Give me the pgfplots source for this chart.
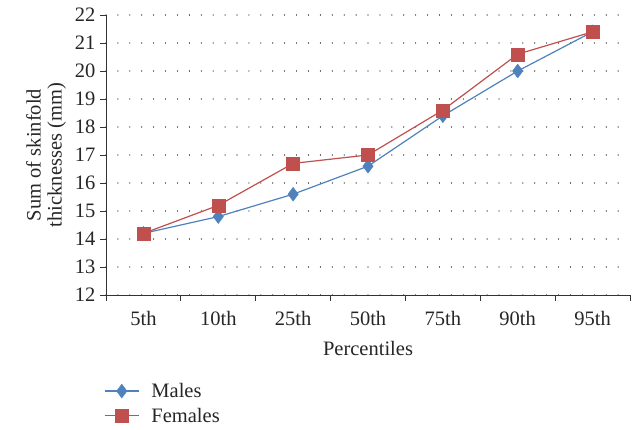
\documentclass[border=0pt]{standalone}
\usepackage{pgfplots}
\pgfplotsset{compat=1.18}
\usepackage{fontspec}
\setmainfont{Liberation Serif}
\definecolor{mblue}{HTML}{4F81BD}
\definecolor{fred}{HTML}{C0504D}
\begin{document}
\begin{tikzpicture}
\path[use as bounding box] (-106pt,-135pt) rectangle (532pt,295pt);
\begin{axis}[
    scale only axis,
    width=524pt, height=280pt,
    xmin=-0.5, xmax=6.5,
    ymin=12, ymax=22,
    ytick={12,13,...,22},
    xtick={0,...,6},
    xticklabels={5th,10th,25th,50th,75th,90th,95th},
    minor xtick={-0.5,0.5,...,6.5},
    major x tick style={draw=none},
    axis x line*=bottom, axis y line*=left,
    axis line style={black!80, line width=0.9pt, -},
    tick align=outside,
    major tick length=6pt, minor tick length=6pt,
    tick style={black!80, line width=0.9pt},
    ymajorgrids,
    grid style={black!70, line width=1.1pt, dash pattern=on 0.01pt off 11.9pt, line cap=round},
    font=\fontsize{20.5}{21}\selectfont,
    tick label style={font=\fontsize{20.5}{24}\selectfont, text=black!85},
    /pgf/number format/assume math mode=true,
    xticklabel style={yshift=-7pt},
    yticklabel style={xshift=-1pt},
    xlabel={Percentiles},
    xlabel style={text=black!85, yshift=-8pt},
    ylabel={Sum of skinfold\\thicknesses (mm)},
    ylabel style={align=center, text=black!85, yshift=2pt},
    legend style={at={(-0.004,-0.3)}, anchor=north west, draw=none, fill=none,
        font=\fontsize{20.5}{24}\selectfont, text=black!85,
        row sep=5pt, column sep=10pt, inner xsep=0pt, legend cell align=left},
    legend image code/.code={
        \draw[#1, mark repeat=2, mark phase=2] plot coordinates {(0cm,0cm) (0.6cm,0cm) (1.2cm,0cm)};
    },
    clip=false,
]
\addplot[color=mblue, line width=1.2pt, mark=diamond*, mark size=7pt,
    mark options={fill=mblue, draw=mblue, line width=0.3pt}] coordinates {
    (0,14.2) (1,14.8) (2,15.6) (3,16.6) (4,18.4) (5,20.0) (6,21.4)
};
\addlegendentry{Males}
\addplot[color=fred, line width=1.2pt, mark=square*, mark size=6.5pt,
    mark options={fill=fred, draw=fred, line width=0.3pt}] coordinates {
    (0,14.2) (1,15.2) (2,16.7) (3,17.0) (4,18.6) (5,20.6) (6,21.4)
};
\addlegendentry{Females}
\end{axis}
\end{tikzpicture}
\end{document}
